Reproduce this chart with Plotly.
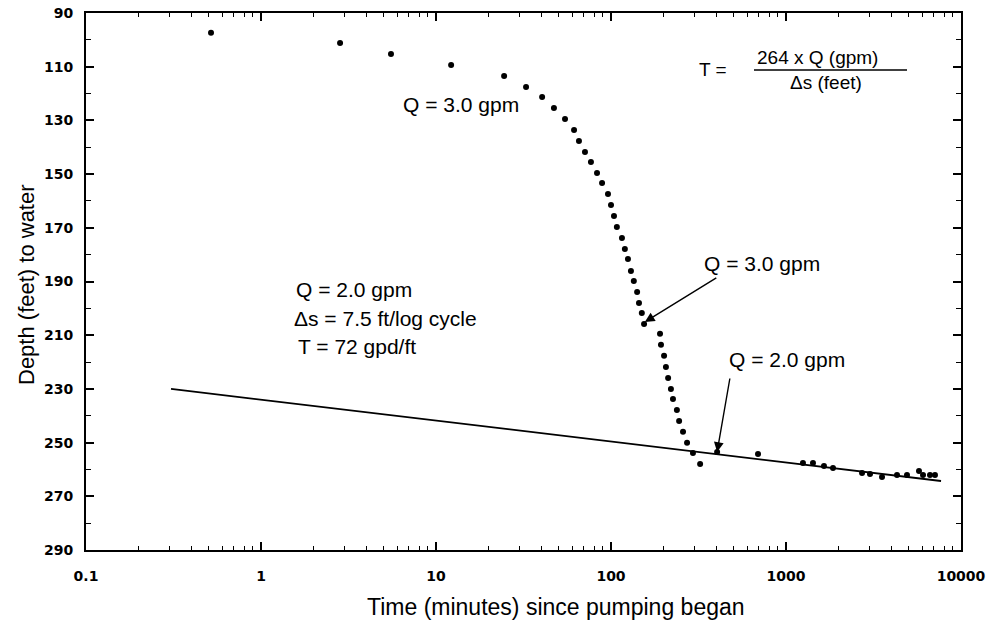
import plotly.graph_objects as go
import math

# Observed drawdown data (time in minutes, depth in feet)
time_min = [0.518, 2.83, 5.53, 12.2, 24.5, 32.7, 40.4, 47.2, 54.6, 61.5, 65.6, 71.0,
            76.8, 83.2, 88.9, 96.1, 100, 104, 108, 115.5, 120, 125, 130, 135, 141,
            144.5, 150, 154.5,
            190.6, 193, 201, 206, 212, 220, 226, 238, 245, 258, 272, 294, 323,
            404, 692, 1250, 1426, 1648, 1856, 2720, 3020, 3537, 4310, 4913, 5754,
            6067, 6650, 7100]
depth_ft = [97.4, 101.2, 105.3, 109.4, 113.5, 117.6, 121.3, 125.4, 129.5, 133.6, 137.7,
            141.8, 145.5, 149.6, 153.3, 157.4, 161.5, 165.6, 169.7, 173.8, 177.9, 181.6,
            186.1, 189.8, 193.9, 198.0, 201.7, 205.8,
            209.5, 213.6, 217.7, 221.8, 225.9, 230.0, 233.8, 237.9, 242.0, 246.0, 250.1,
            253.9, 258.0,
            253.5, 254.2, 257.6, 257.6, 258.7, 259.5, 261.3, 261.7, 262.8, 262.1, 262.1,
            260.6, 262.1, 262.1, 262.1]

# Straight-line fit (Cooper-Jacob)
fit_time = [0.306, 7690]
fit_depth = [230.0, 264.3]

# Arrow targets
arrow3_time, arrow3_depth = 156, 205.1
arrow2_time, arrow2_depth = 404, 253.5

x_ticks = [0.1, 1, 10, 100, 1000, 10000]
x_labels = ["0.1", "1", "10", "100", "1000", "10000"]
y_ticks = [90, 110, 130, 150, 170, 190, 210, 230, 250, 270, 290]

FONT = "Liberation Sans, Arial, sans-serif"
TICKFONT = "DejaVu Sans, sans-serif"

fig = go.Figure()
fig.add_trace(go.Scatter(x=fit_time, y=fit_depth, mode="lines",
                         line=dict(color="black", width=1.8), showlegend=False))
fig.add_trace(go.Scatter(x=time_min, y=depth_ft, mode="markers",
                         marker=dict(color="black", size=6), showlegend=False))

ann = []
def txt(px, py, s, size=21, xanchor="center", angle=0):
    ann.append(dict(xref="paper", yref="paper", x=(px - 86) / 875, y=1 - (py - 13) / 537,
                    text=s, showarrow=False, xanchor=xanchor, yanchor="middle",
                    textangle=angle,
                    font=dict(family=FONT, size=size, color="black")))

txt(461, 104, "Q = 3.0 gpm")
txt(713, 69, "T =", size=19)
txt(817, 57, "264 x Q (gpm)", size=19)
txt(826, 83, "Δs (feet)", size=19)
txt(294, 289, "Q = 2.0 gpm", xanchor="left")
txt(292, 318, "Δs = 7.5 ft/log cycle", xanchor="left")
txt(296, 346, "T = 72 gpd/ft", xanchor="left")
txt(762, 263, "Q = 3.0 gpm")
txt(787, 359, "Q = 2.0 gpm")
# axis titles
txt(556, 607, "Time (minutes) since pumping began", size=23)
txt(26, 285, "Depth (feet) to water", size=22, angle=-90)

ann.append(dict(x=math.log10(arrow3_time), y=arrow3_depth, xref="x", yref="y", text="",
                showarrow=True, arrowhead=2, arrowsize=1.4, arrowwidth=1.4,
                arrowcolor="black", ax=73, ay=-45))
ann.append(dict(x=math.log10(arrow2_time), y=arrow2_depth, xref="x", yref="y", text="",
                showarrow=True, arrowhead=2, arrowsize=1.4, arrowwidth=1.4,
                arrowcolor="black", ax=13, ay=-75))

fig.add_shape(type="line", xref="paper", yref="paper",
              x0=(754 - 86) / 875, x1=(907 - 86) / 875,
              y0=1 - (70 - 13) / 537, y1=1 - (70 - 13) / 537,
              line=dict(color="black", width=1.6))

fig.update_layout(
    width=989, height=627,
    margin=dict(l=86, r=28, t=13, b=77),
    paper_bgcolor="white", plot_bgcolor="white",
    annotations=ann,
    font=dict(family=FONT, color="black"),
    xaxis=dict(type="log", range=[-1, 4], tickvals=x_ticks, ticktext=x_labels,
               ticks="inside", ticklen=8, tickwidth=1.5, tickcolor="black",
               minor=dict(ticks="inside", ticklen=4, tickwidth=1, tickcolor="black",
                          dtick="D1", showgrid=False),
               showline=True, linecolor="black", linewidth=2, mirror="allticks",
               showgrid=False, zeroline=False, ticklabelstandoff=12, automargin=False,
               tickfont=dict(family=TICKFONT, size=14, color="black", weight="bold")),
    yaxis=dict(range=[290, 90], tickvals=y_ticks,
               ticks="inside", ticklen=8, tickwidth=1.5, tickcolor="black",
               minor=dict(ticks="inside", ticklen=5, tickwidth=1, tickcolor="black",
                          dtick=10, showgrid=False),
               showline=True, linecolor="black", linewidth=2, mirror="allticks",
               showgrid=False, zeroline=False, ticklabelstandoff=8, automargin=False,
               tickfont=dict(family=TICKFONT, size=14, color="black", weight="bold")),
)

fig.write_html("out.html")
